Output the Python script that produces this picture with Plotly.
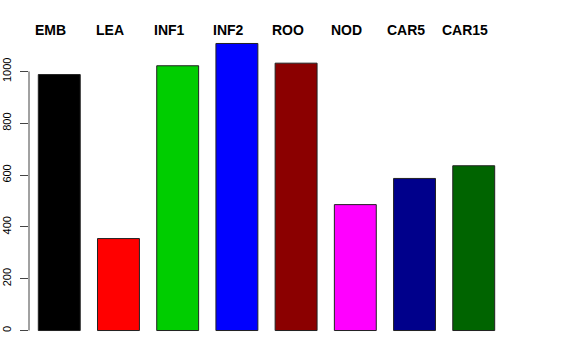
import plotly.graph_objects as go

categories = ["EMB", "LEA", "INF1", "INF2", "ROO", "NOD", "CAR5", "CAR15"]
values = [988, 355, 1022, 1108, 1032, 486, 587, 636]
colors = ["#000000", "#FF0000", "#00CD00", "#0000FF", "#8B0000", "#FF00FF", "#00008B", "#006400"]
y_ticks = [0, 200, 400, 600, 800, 1000]

xpos = list(range(len(categories)))

fig = go.Figure()
fig.add_trace(go.Bar(
    x=xpos, y=values, width=0.708,
    marker=dict(color=colors, line=dict(color="#222222", width=1)),
    showlegend=False, hoverinfo="skip",
))

for i, c in enumerate(categories):
    fig.add_annotation(
        x=i, y=1.008, xref="x", yref="paper", text="<b>" + c + "</b>",
        showarrow=False, xanchor="center", yanchor="middle", xshift=-8.5,
        font=dict(family="Liberation Sans, Arial, sans-serif", size=14, color="black"),
    )

fig.add_shape(type="line", xref="paper", yref="y", x0=0, x1=0, y0=0, y1=1000,
              line=dict(color="#444444", width=1))

fig.update_layout(
    width=576, height=360,
    margin=dict(l=29, r=72, t=31.5, b=17.5, autoexpand=False),
    paper_bgcolor="white", plot_bgcolor="white",
    xaxis=dict(range=[-0.511, 7.511], showticklabels=False, showgrid=False,
               zeroline=False, showline=False, ticks="", automargin=False),
    yaxis=dict(range=[-44.3, 1152.3], tickvals=y_ticks, ticks="outside", ticklen=8,
               tickcolor="#444444", tickwidth=1, tickangle=-90, showgrid=False,
               zeroline=False, showline=False, ticklabelstandoff=5, automargin=False,
               tickfont=dict(family="Liberation Sans, Arial, sans-serif", size=11, color="black")),
    font=dict(family="Liberation Sans, Arial, sans-serif"),
)

fig.write_html("out.html", config={"displayModeBar": False},
               post_script="document.body.style.margin='0px';")
